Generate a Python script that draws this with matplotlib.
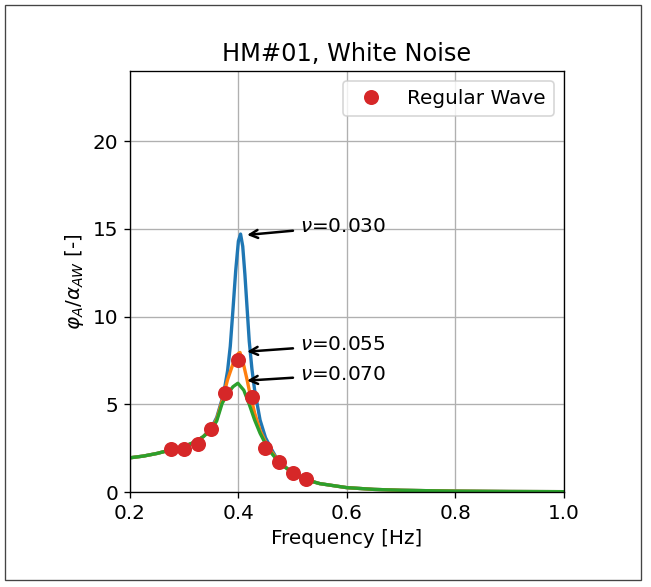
import matplotlib
matplotlib.use("Agg")
import matplotlib.pyplot as plt
from matplotlib.patches import Rectangle

plt.rcParams["font.size"] = 12

# response curves
f_030 = [0.20, 0.225, 0.25, 0.275, 0.30, 0.32, 0.335, 0.35, 0.36, 0.37, 0.375, 0.38, 0.385,
         0.39, 0.395, 0.40, 0.404, 0.408, 0.412, 0.416, 0.42, 0.425, 0.43, 0.44, 0.45, 0.46,
         0.47, 0.48, 0.50, 0.525, 0.55, 0.60, 0.65, 0.70, 0.80, 0.90, 1.00]
v_030 = [1.95, 2.05, 2.2, 2.4, 2.6, 2.85, 3.15, 3.65, 4.25, 5.3, 6.0, 6.9, 8.3,
         10.4, 12.6, 14.3, 14.7, 14.0, 12.4, 10.5, 8.6, 7.0, 5.8, 4.1, 3.1, 2.5,
         1.95, 1.6, 1.1, 0.7, 0.48, 0.25, 0.15, 0.1, 0.05, 0.03, 0.02]

f_055 = [0.20, 0.225, 0.25, 0.275, 0.30, 0.32, 0.335, 0.35, 0.36, 0.37, 0.38, 0.39,
         0.40, 0.403, 0.41, 0.416, 0.42, 0.43, 0.44, 0.45, 0.46,
         0.47, 0.48, 0.50, 0.525, 0.55, 0.60, 0.65, 0.70, 0.80, 0.90, 1.00]
v_055 = [1.95, 2.05, 2.2, 2.4, 2.6, 2.85, 3.15, 3.6, 4.15, 5.2, 6.4, 7.3,
         7.9, 7.95, 7.2, 6.4, 5.8, 4.5, 3.5, 2.85, 2.35,
         1.92, 1.58, 1.1, 0.7, 0.48, 0.25, 0.15, 0.1, 0.05, 0.03, 0.02]

f_070 = [0.20, 0.225, 0.25, 0.275, 0.30, 0.32, 0.335, 0.35, 0.36, 0.37, 0.38, 0.39,
         0.399, 0.41, 0.42, 0.43, 0.44, 0.45, 0.46,
         0.47, 0.48, 0.50, 0.525, 0.55, 0.60, 0.65, 0.70, 0.80, 0.90, 1.00]
v_070 = [1.95, 2.05, 2.2, 2.4, 2.6, 2.85, 3.15, 3.55, 4.05, 5.05, 5.6, 6.0,
         6.2, 5.8, 5.0, 4.1, 3.35, 2.75, 2.25,
         1.88, 1.55, 1.1, 0.7, 0.48, 0.25, 0.15, 0.1, 0.05, 0.03, 0.02]

# regular wave tests
f_rw = [0.275, 0.30, 0.325, 0.35, 0.375, 0.40, 0.425, 0.45, 0.475, 0.50, 0.525]
v_rw = [2.43, 2.43, 2.75, 3.6, 5.65, 7.54, 5.42, 2.52, 1.70, 1.06, 0.72]

labels = [r"$\nu$=0.030", r"$\nu$=0.055", r"$\nu$=0.070"]
tips = [(0.416, 14.65), (0.416, 8.0), (0.416, 6.35)]
text_y = [15.15, 8.39, 6.69]

fig = plt.figure(figsize=(651/120, 587/120), dpi=120)
ax = fig.add_axes([0.1997, 0.1618, 0.666, 0.7175])

ax.plot(f_030, v_030, color="tab:blue", lw=2)
ax.plot(f_055, v_055, color="tab:orange", lw=2)
ax.plot(f_070, v_070, color="tab:green", lw=2)
ax.plot(f_rw, v_rw, "o", color="tab:red", ms=8, label="Regular Wave", zorder=5)

for lab, tip, ty in zip(labels, tips, text_y):
    ax.annotate(lab, xy=tip, xytext=(0.513, ty), ha="left", va="center", fontsize=12,
                arrowprops=dict(arrowstyle="->", color="black", lw=1.5, shrinkB=0))

ax.set_xlim(0.2, 1.0)
ax.set_ylim(0, 24)
ax.set_xticks([0.2, 0.4, 0.6, 0.8, 1.0])
ax.set_yticks([0, 5, 10, 15, 20])
ax.grid(True)
ax.set_title("HM#01, White Noise")
ax.set_xlabel("Frequency [Hz]")
ax.set_ylabel(r"$\varphi_A/\alpha_{AW}$ [-]")
ax.legend(loc="upper right", handletextpad=0.8)

fig.patches.append(Rectangle((0.008, 0.012), 0.977, 0.98, transform=fig.transFigure,
                             fill=False, edgecolor="#444444", lw=0.8))

fig.savefig("out.png", dpi=120)
